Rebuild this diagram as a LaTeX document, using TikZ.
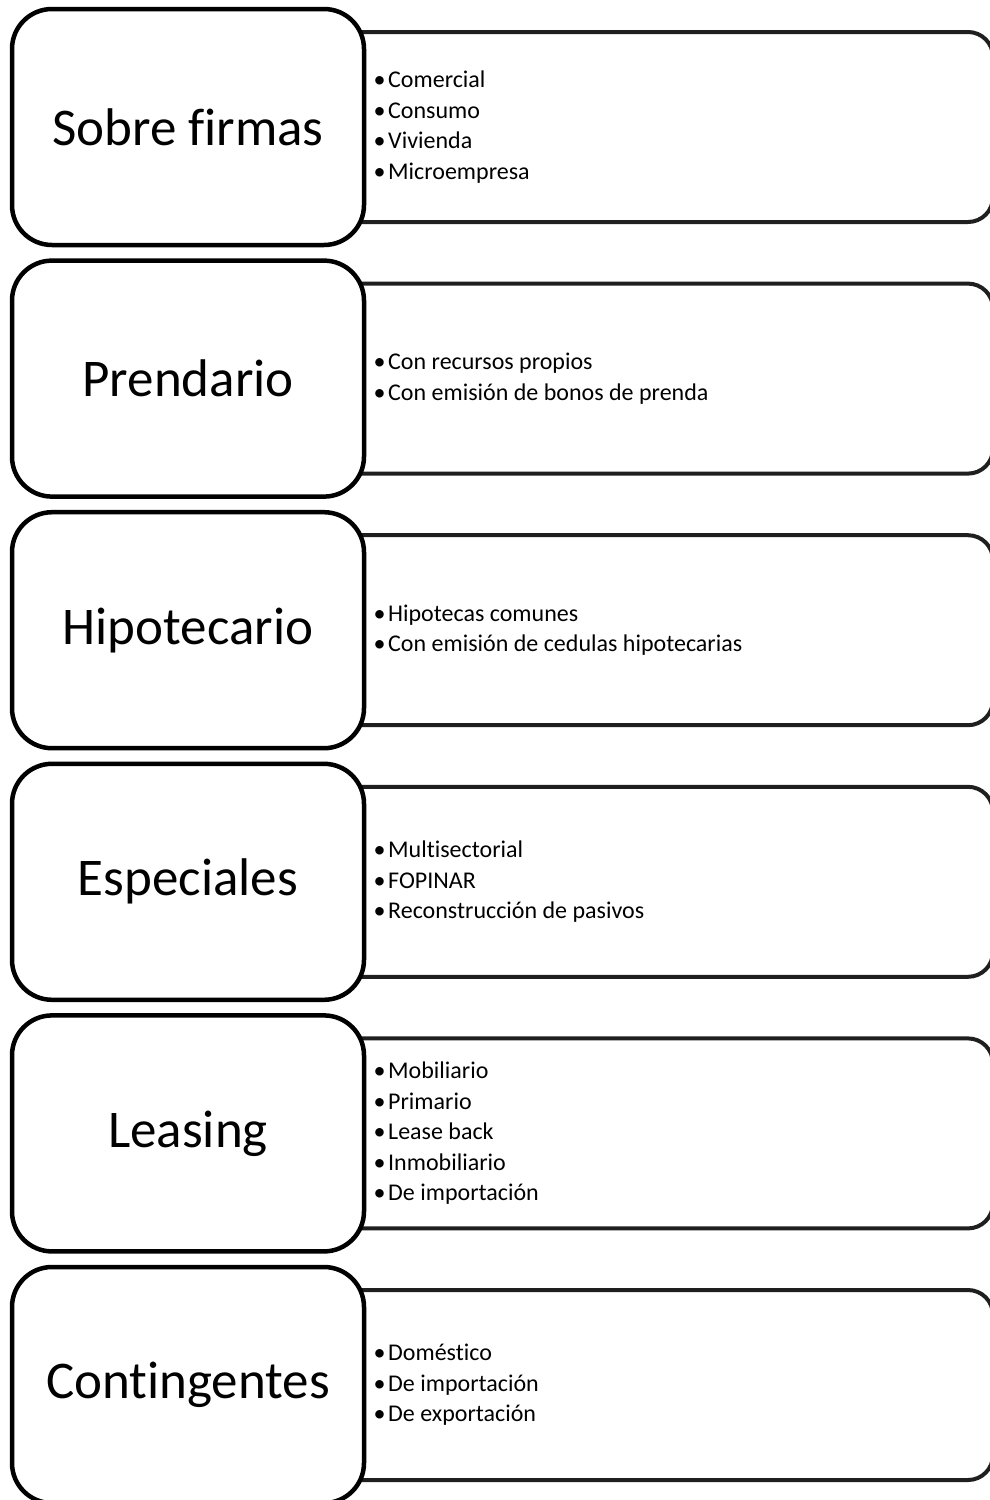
\documentclass[tikz,border=0pt]{standalone}
\usepackage{fontspec}
\setmainfont{Carlito}[Ligatures=NoCommon]
\newcommand\kbul{\makebox[17pt][c]{•}}
\newcommand\kasrow[4]{%
  \pgfmathsetmacro\yc{127+251.6*#1}%
  \node[rightbox] (#2r) at (646.5,-\yc) {};
  \node[leftbox] (#2) at (188,-\yc) {#3};
  \node[items] (#2i) at (371,-\yc) {#4};
}
\begin{document}
\begin{tikzpicture}[x=1pt,y=1pt,
  leftbox/.style={draw=black, line width=4.5pt, fill=white, rounded corners=40pt,
    minimum width=352pt, minimum height=236pt, inner sep=0pt,
    font=\fontsize{53}{64}\selectfont},
  rightbox/.style={draw=black!88, line width=4pt, fill=white, rounded corners=25pt,
    minimum width=693pt, minimum height=190pt, inner sep=0pt},
  items/.style={anchor=west, align=left, inner sep=0pt,
    font=\fontsize{24}{30.5}\selectfont}]
\useasboundingbox (0,0) rectangle (990,-1500);
\clip (0,0) rectangle (990,-1500);
\fill[white] (0,0) rectangle (990,-1500);
\kasrow{0}{sobre}{Sobre firmas}{\kbul Comercial\\ \kbul Consumo\\ \kbul Vivienda\\ \kbul Microempresa}
\kasrow{1}{prend}{Prendario}{\kbul Con recursos propios\\ \kbul Con emisión de bonos de prenda}
\kasrow{2}{hipo}{Hipotecario}{\kbul Hipotecas comunes\\ \kbul Con emisión de cedulas hipotecarias}
\kasrow{3}{espe}{Especiales}{\kbul Multisectorial\\ \kbul FOPINAR\\ \kbul Reconstrucción de pasivos}
\kasrow{4}{leas}{Leasing}{\kbul Mobiliario\\ \kbul Primario\\ \kbul Lease back\\ \kbul Inmobiliario\\ \kbul De importación}
\kasrow{5}{cont}{Contingentes}{\kbul Doméstico\\ \kbul De importación\\ \kbul De exportación}
\end{tikzpicture}
\end{document}
